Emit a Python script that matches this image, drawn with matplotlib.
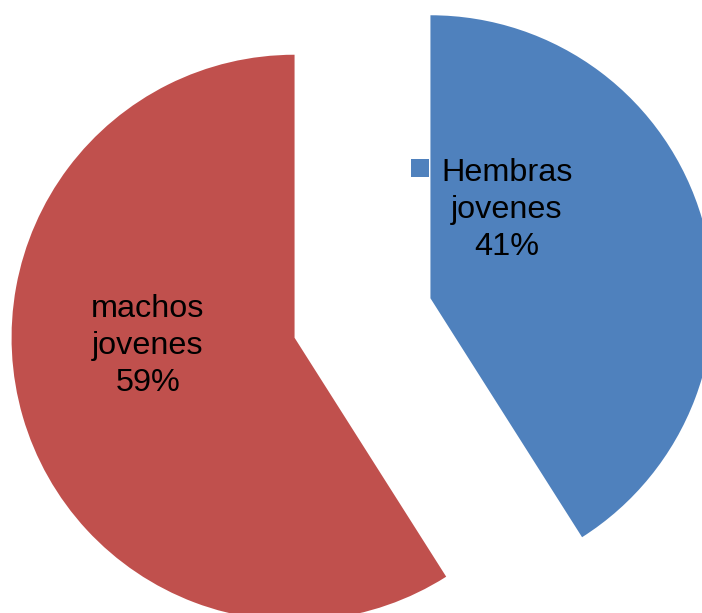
import matplotlib
matplotlib.use("Agg")
import matplotlib.pyplot as plt

# datos del grafico
categorias = ["Hembras jovenes", "machos jovenes"]
porcentajes = [41, 59]
colores = ["#4F81BD", "#C0504D"]
separacion = [0.25, 0.25]

plt.rcParams['font.family'] = ['Liberation Sans', 'DejaVu Sans']

fig = plt.figure(figsize=(7.02, 6.13), dpi=100)
ax = fig.add_axes([0, 0, 1, 1])
ax.axis("off")

# escala: 283 px por unidad, centro del pastel en (362.5, 318) px
R = 283.0
cx, cy = 362.5, 318.0


def px(x, y):
    return (x - cx) / R, (cy - y) / R


ax.pie(porcentajes, colors=colores, explode=separacion, startangle=90,
       counterclock=False, radius=1.0, center=(0, 0), frame=False,
       wedgeprops=dict(linewidth=0))

ax.set_xlim((0 - cx) / R, (702 - cx) / R)
ax.set_ylim((cy - 613) / R, cy / R)
ax.set_aspect("equal")

# etiquetas con nombre y porcentaje
def etiqueta(i):
    nombre = categorias[i].replace(" ", "\n")
    return "%s\n%d%%" % (nombre, porcentajes[i])

x, y = px(507, 210)
ax.text(x, y, etiqueta(0), ha="center", va="center", fontsize=23.3,
        linespacing=1.3, color="black")
x, y = px(148, 346)
ax.text(x, y, etiqueta(1), ha="center", va="center", fontsize=23.3,
        linespacing=1.3, color="black")

# cuadrito de leyenda junto a la etiqueta azul
x, y = px(420, 168)
ax.plot([x], [y], marker="s", markersize=12.5, color=colores[0],
        markeredgewidth=0, linestyle="none")

fig.savefig("out.png", dpi=100)
